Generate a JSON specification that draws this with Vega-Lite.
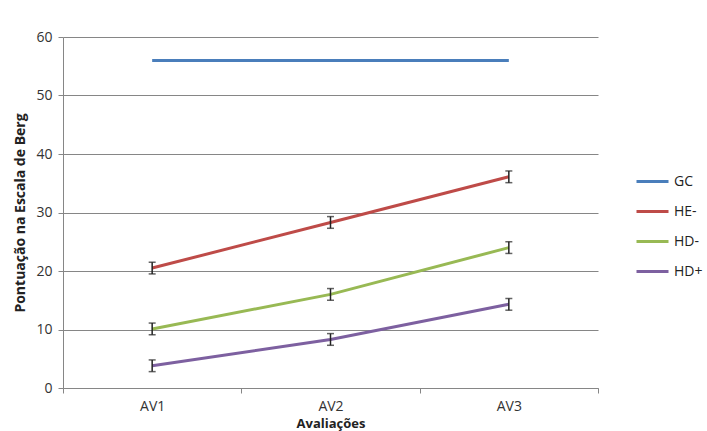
{
  "$schema": "https://vega.github.io/schema/vega-lite/v6.json",
  "autosize": "none",
  "width": 535,
  "height": 351,
  "padding": {"left": 63, "top": 37, "right": 109, "bottom": 43},
  "background": "white",
  "config": {
    "font": "Open Sans",
    "view": {"stroke": null},
    "axis": {"labelFont": "Open Sans", "titleFont": "Open Sans"}
  },
  "data": {
    "values": [
      {"group": "GC", "av": "AV1", "value": 56, "err": 0},
      {"group": "GC", "av": "AV2", "value": 56, "err": 0},
      {"group": "GC", "av": "AV3", "value": 56, "err": 0},
      {"group": "HE-", "av": "AV1", "value": 20.5, "err": 1.0},
      {"group": "HE-", "av": "AV2", "value": 28.3, "err": 1.0},
      {"group": "HE-", "av": "AV3", "value": 36.1, "err": 1.0},
      {"group": "HD-", "av": "AV1", "value": 10.1, "err": 1.0},
      {"group": "HD-", "av": "AV2", "value": 16.0, "err": 1.0},
      {"group": "HD-", "av": "AV3", "value": 24.0, "err": 1.0},
      {"group": "HD+", "av": "AV1", "value": 3.8, "err": 1.0},
      {"group": "HD+", "av": "AV2", "value": 8.3, "err": 1.0},
      {"group": "HD+", "av": "AV3", "value": 14.3, "err": 1.0}
    ]
  },
  "encoding": {
    "x": {
      "field": "av",
      "type": "nominal",
      "scale": {"type": "band", "paddingInner": 0, "paddingOuter": 0},
      "axis": {
        "title": "Avaliações",
        "titleFontWeight": "bold",
        "titleFontSize": 13,
        "titleColor": "#222222",
        "titlePadding": 4,
        "labelAngle": 0,
        "labelFontSize": 14,
        "labelColor": "#333333",
        "labelPadding": 6,
        "tickBand": "extent",
        "tickSize": 5,
        "tickColor": "#868686",
        "domainColor": "#868686",
        "grid": false
      }
    },
    "y": {
      "field": "value",
      "type": "quantitative",
      "scale": {"domain": [0, 60]},
      "axis": {
        "title": "Pontuação na Escala de Berg",
        "titleFontWeight": "bold",
        "titleFontSize": 14,
        "titleColor": "#222222",
        "titlePadding": 8,
        "values": [0, 10, 20, 30, 40, 50, 60],
        "labelFontSize": 14,
        "labelColor": "#333333",
        "labelPadding": 6,
        "tickSize": 5,
        "tickColor": "#868686",
        "domainColor": "#868686",
        "gridColor": "#868686",
        "grid": true
      }
    }
  },
  "layer": [
    {
      "mark": {"type": "line", "strokeWidth": 3},
      "encoding": {
        "color": {
          "field": "group",
          "type": "nominal",
          "sort": ["GC", "HE-", "HD-", "HD+"],
          "scale": {
            "domain": ["GC", "HE-", "HD-", "HD+"],
            "range": ["#4A7EBB", "#BE4B48", "#98B954", "#7D60A0"]
          },
          "legend": {
            "title": null,
            "orient": "none",
            "legendX": 572,
            "legendY": 127,
            "symbolType": "stroke",
            "symbolSize": 1024,
            "symbolStrokeWidth": 3,
            "rowPadding": 5,
            "labelOffset": 4,
            "labelFontSize": 14,
            "labelColor": "#222222"
          }
        }
      }
    },
    {
      "transform": [{"filter": "datum.group != 'GC'"}],
      "mark": {"type": "errorbar", "ticks": {"size": 7, "color": "#222222"}, "color": "#222222", "thickness": 1.5},
      "encoding": {
        "y": {"field": "value", "type": "quantitative"},
        "yError": {"field": "err"}
      }
    }
  ]
}
